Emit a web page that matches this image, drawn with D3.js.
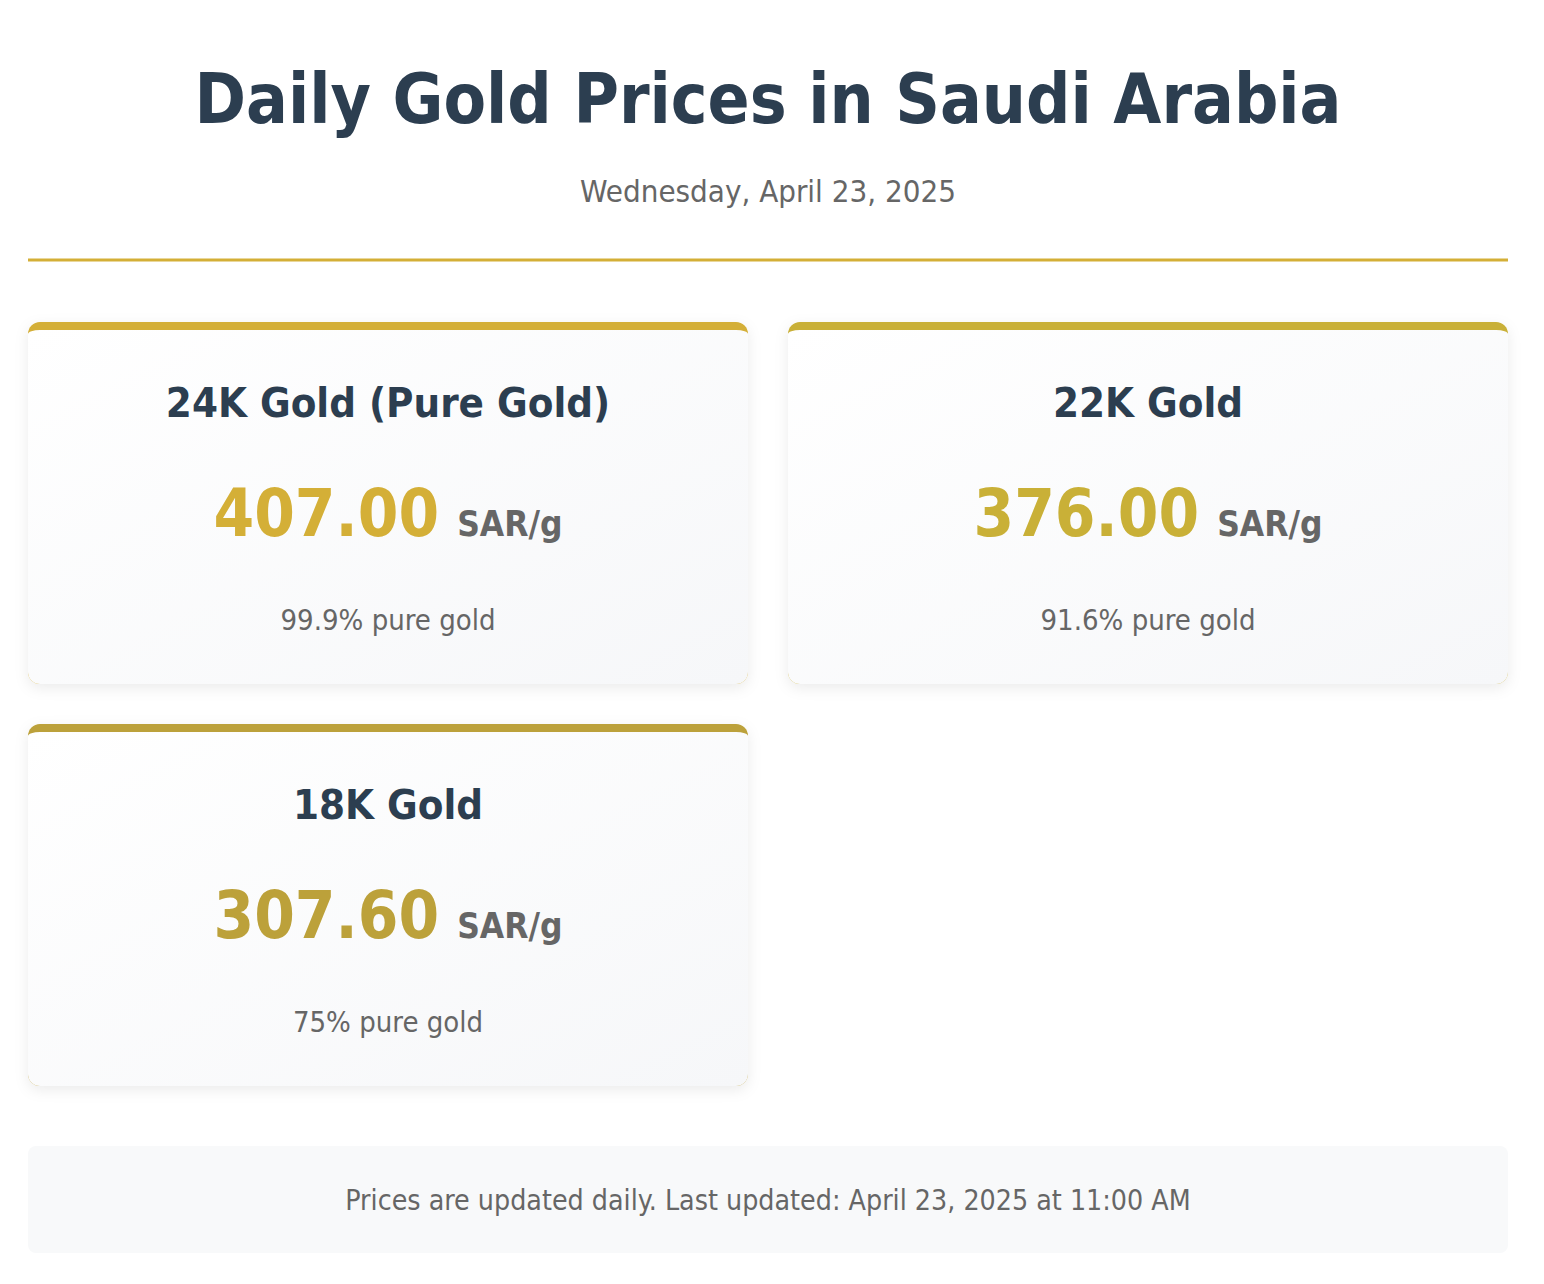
<!DOCTYPE html>
<html>
<head>
<meta charset="utf-8">
<script src="https://cdn.jsdelivr.net/npm/d3@7"></script>
<style>
  html, body { margin: 0; padding: 0; background: #ffffff; }
  svg { display: block; }
  text { font-family: "DejaVu Sans Condensed", "DejaVu Sans", sans-serif; font-stretch: condensed; }
</style>
</head>
<body>
<div id="chart"></div>
<script>
// page texts
var pageTitle = "Daily Gold Prices in Saudi Arabia";
var pageDate = "Wednesday, April 23, 2025";
var footNote = "Prices are updated daily. Last updated: April 23, 2025 at 11:00 AM";

// card data, one entry per karat
var karats = ["24K Gold (Pure Gold)", "22K Gold", "18K Gold"];
var prices = [407.00, 376.00, 307.60];
var purities = ["99.9% pure gold", "91.6% pure gold", "75% pure gold"];
var unitLabel = "SAR/g";

var width = 1544, height = 1284;
var left = 28, right = 1508, gap = 40, cols = 2;
var cardH = 362, cardR = 12, topBorder = 8;
var midX = (left + right) / 2;

var svg = d3.select('#chart').append('svg')
  .attr('width', width)
  .attr('height', height);

var defs = svg.append('defs');

var grad = defs.append('linearGradient')
  .attr('id', 'card-bg')
  .attr('x1', '0%').attr('y1', '0%')
  .attr('x2', '100%').attr('y2', '100%');
grad.append('stop').attr('offset', '0%').attr('stop-color', '#ffffff');
grad.append('stop').attr('offset', '100%').attr('stop-color', '#f6f7f9');

var shadow = defs.append('filter')
  .attr('id', 'card-shadow')
  .attr('x', '-10%').attr('y', '-10%')
  .attr('width', '120%').attr('height', '130%');
shadow.append('feDropShadow')
  .attr('dx', 0).attr('dy', 4)
  .attr('stdDeviation', 7)
  .attr('flood-color', '#000000')
  .attr('flood-opacity', 0.08);

// accent colour per karat
var accent = d3.scaleOrdinal()
  .domain(karats)
  .range(['#d4af37', '#c9b037', '#bca13a']);

// grid layout of cards
var cardW = (right - left - gap * (cols - 1)) / cols;
var colScale = d3.scaleLinear()
  .domain([0, 1])
  .range([left, left + cardW + gap]);

var rowScale = d3.scaleLinear()
  .domain([0, 1])
  .range([322, 322 + cardH + gap]);

// header
svg.append('text')
  .attr('x', midX)
  .attr('y', 123)
  .attr('text-anchor', 'middle')
  .style('font-size', '69px')
  .style('font-weight', 'bold')
  .style('fill', '#2c3e50')
  .text(pageTitle);

svg.append('text')
  .attr('x', midX)
  .attr('y', 202)
  .attr('text-anchor', 'middle')
  .style('font-size', '31px')
  .style('fill', '#666666')
  .text(pageDate);

svg.append('rect')
  .attr('x', left)
  .attr('y', 258.5)
  .attr('width', right - left)
  .attr('height', 3)
  .style('fill', '#d4af37');

// body shape inside the top border: elliptical top corners like css border-radius
function innerPath(w, h) {
  var ry = cardR - topBorder;
  return 'M0 ' + (topBorder + ry) +
    ' A ' + cardR + ' ' + ry + ' 0 0 1 ' + cardR + ' ' + topBorder +
    ' H ' + (w - cardR) +
    ' A ' + cardR + ' ' + ry + ' 0 0 1 ' + w + ' ' + (topBorder + ry) +
    ' V ' + (h - cardR) +
    ' A ' + cardR + ' ' + cardR + ' 0 0 1 ' + (w - cardR) + ' ' + h +
    ' H ' + cardR +
    ' A ' + cardR + ' ' + cardR + ' 0 0 1 0 ' + (h - cardR) + ' Z';
}

var cardData = karats.map(function(k, i) {
  return { karat: k, price: prices[i], purity: purities[i], i: i };
});

var fmt = d3.format('.2f');

var cards = svg.selectAll('g.card')
  .data(cardData)
  .join('g')
  .classed('card', true)
  .attr('transform', function(d) {
    return 'translate(' + colScale(d.i % cols) + ',' + rowScale(Math.floor(d.i / cols)) + ')';
  });

cards.append('rect')
  .attr('width', cardW)
  .attr('height', cardH)
  .attr('rx', cardR)
  .style('fill', function(d) { return accent(d.karat); })
  .attr('filter', 'url(#card-shadow)');

cards.append('path')
  .attr('d', innerPath(cardW, cardH))
  .style('fill', 'url(#card-bg)');

cards.append('text')
  .attr('x', cardW / 2)
  .attr('y', 95)
  .attr('text-anchor', 'middle')
  .style('font-size', '41.6px')
  .style('font-weight', 'bold')
  .style('fill', '#2c3e50')
  .text(function(d) { return d.karat; });

var priceText = cards.append('text')
  .attr('x', cardW / 2)
  .attr('y', 214)
  .attr('text-anchor', 'middle')
  .style('font-weight', 'bold');

priceText.append('tspan')
  .style('font-size', '65px')
  .style('fill', function(d) { return accent(d.karat); })
  .text(function(d) { return fmt(d.price); });

priceText.append('tspan')
  .attr('dx', 18)
  .style('font-size', '35px')
  .style('fill', '#666666')
  .text(unitLabel);

cards.append('text')
  .attr('x', cardW / 2)
  .attr('y', 308)
  .attr('text-anchor', 'middle')
  .style('font-size', '29px')
  .style('fill', '#666666')
  .text(function(d) { return d.purity; });

// footer note
svg.append('rect')
  .attr('x', left)
  .attr('y', 1146)
  .attr('width', right - left)
  .attr('height', 107)
  .attr('rx', 8)
  .style('fill', '#f8f9fa');

svg.append('text')
  .attr('x', midX)
  .attr('y', 1210)
  .attr('text-anchor', 'middle')
  .style('font-size', '28.3px')
  .style('fill', '#666666')
  .text(footNote);
</script>
</body>
</html>
